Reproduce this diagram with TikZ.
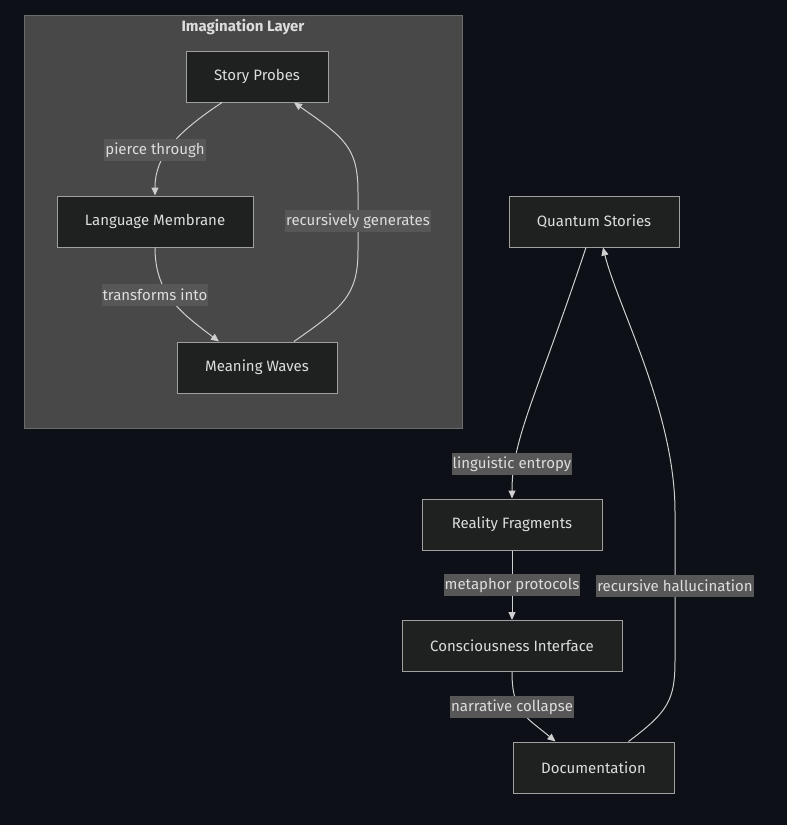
\documentclass[tikz,border=0pt]{standalone}
\usepackage{fontspec}
\setmainfont{Fira Sans}
\usetikzlibrary{arrows.meta}
\definecolor{bgcol}{HTML}{0D1017}
\definecolor{clustfill}{HTML}{474847}
\definecolor{clustline}{HTML}{6B6B6B}
\definecolor{boxfill}{HTML}{1F2020}
\definecolor{boxline}{HTML}{A0A0A0}
\definecolor{edgecol}{HTML}{CFCFCF}
\definecolor{lblfill}{HTML}{575757}
\definecolor{txtcol}{HTML}{DDDDDD}
\tikzstyle{block} = [rectangle, minimum height=51pt, text centered, fill=boxfill,
draw=boxline, line width=1pt, text=txtcol, font=\fontsize{15}{17}\selectfont]
\tikzstyle{lbl} = [rectangle, minimum height=22pt, inner xsep=1pt, inner ysep=0pt,
fill=lblfill, text=txtcol, font=\fontsize{15}{17}\selectfont]
\tikzstyle{arrow} = [draw=edgecol, line width=1pt, -{Triangle[length=8pt,width=7pt]}]

\begin{document}
\begin{tikzpicture}[x=1pt, y=1pt]
    \useasboundingbox[fill=bgcol] (0,0) rectangle (787,-825);
    \draw[fill=clustfill, draw=clustline, line width=1pt] (24,-15) rectangle (462,-428);
    \node (title) at (243,-27) [text=txtcol, font=\fontsize{15}{17}\selectfont\bfseries] {Imagination Layer};

    \node (sp) [block, minimum width=142pt] at (257,-76.5) {Story Probes};
    \node (lm) [block, minimum width=196pt] at (155,-221.5) {Language Membrane};
    \node (mw) [block, minimum width=160pt] at (257,-367.5) {Meaning Waves};
    \node (qs) [block, minimum width=170pt] at (594,-221.5) {Quantum Stories};
    \node (rf) [block, minimum width=180pt] at (512,-524.5) {Reality Fragments};
    \node (ci) [block, minimum width=220pt] at (512,-646) {Consciousness Interface};
    \node (doc) [block, minimum width=161pt] at (593.5,-767.5) {Documentation};

    \draw[arrow] ([xshift=-35pt]sp.south) .. controls +(-45,-30) and +(0,40) .. (lm.north)
        node[lbl] at (155,-150) {pierce through};
    \draw[arrow] (lm.south) .. controls +(0,-45) and +(-40,30) .. ([xshift=-38pt]mw.north)
        node[lbl] at (155,-295) {transforms into};
    \draw[arrow] ([xshift=37pt]mw.north) .. controls +(50,35) and +(0,-45) .. (358,-250)
        -- node[lbl] {recursively generates} (358,-192)
        .. controls +(0,45) and +(50,-35) .. ([xshift=37pt]sp.south);
    \draw[arrow] ([xshift=-8pt]qs.south) .. controls +(-50,-150) and +(0,60) .. (rf.north)
        node[lbl] at (512,-464) {linguistic entropy};
    \draw[arrow] (rf) -- node[lbl] {metaphor protocols} (ci);
    \draw[arrow] (ci.south) .. controls +(0,-40) and +(-30,25) .. ([xshift=-38pt]doc.north)
        node[lbl] at (512,-707) {narrative collapse};
    \draw[arrow] ([xshift=35pt]doc.north) .. controls +(40,30) and +(0,-40) .. (675,-660)
        -- node[lbl] {recursive hallucination} (675,-512)
        .. controls +(0,100) and +(15,-60) .. ([xshift=9pt]qs.south);

\end{tikzpicture}
\end{document}
